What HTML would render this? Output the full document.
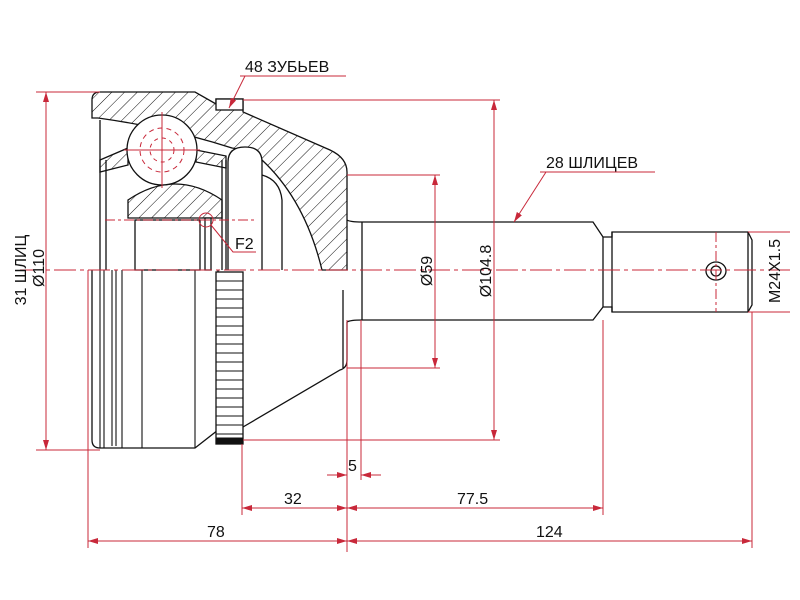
<!DOCTYPE html>
<html><head><meta charset="utf-8"><style>
html,body{margin:0;padding:0;background:#fff}
svg{display:block}
text{font-family:"Liberation Sans",sans-serif;font-size:16px;fill:#111}
</style></head><body>
<svg width="800" height="600" viewBox="0 0 800 600" xmlns="http://www.w3.org/2000/svg">
<defs>
<pattern id="h" patternUnits="userSpaceOnUse" width="9" height="9" patternTransform="rotate(45)">
<line x1="0" y1="0" x2="0" y2="9" stroke="#111" stroke-width="1"/>
</pattern>
<marker id="a" viewBox="0 0 10 6" refX="10" refY="3" markerWidth="10" markerHeight="6" orient="auto-start-reverse" markerUnits="userSpaceOnUse">
<path d="M0,0 L10,3 L0,6 Z" fill="#c8283a"/>
</marker>
</defs>

<g stroke="#111" stroke-width="1.3" fill="none">
<path d="M92,118 L92,100 Q92,92 100,92 L195,92 L216,104 L216,99 L243,99 L243,112 L330,150 Q347,158 347,172 L347,270 L322,270 Q305,200 262,160 Q250,150 232,148 Q170,128 98,118 Z" fill="url(#h)"/>
<rect x="216" y="99" width="27" height="11" fill="#fff"/>
<!-- inner race -->
<path d="M128,200 Q175,168 222,200 L222,218 L128,218 Z" fill="url(#h)"/>
<!-- cage bits -->
<path d="M100,160 L128,148 L128,165 L100,172 Z" fill="url(#h)"/>
<path d="M196,150 L226,156 L226,168 L196,162 Z" fill="url(#h)"/>
<!-- ball -->
<circle cx="162" cy="150" r="35" fill="#fff"/>
<rect x="135" y="220" width="65" height="50" fill="#fff"/>
<rect x="205" y="218" width="6" height="52" fill="#fff"/>
<path d="M100,120 L100,270 M106,160 L106,270 M222,160 L222,270 M226,160 L226,270"/>
<path d="M228,270 L228,162 Q228,147 245,147 Q262,147 262,162 L262,270" fill="#fff"/>
<path d="M262,175 Q280,180 282,200 L282,270"/>
<!-- shaft -->
<path d="M347,220 Q350,222 362,222 L593,222 L603,237 L612,237 L612,232 L748,232 L752,240 L752,305 L748,312 L612,312 L612,307 L603,307 L593,320 L362,320 Q350,320 347,322"/>
<path d="M362,222 L362,320 M603,237 L603,307 M612,232 L612,312 M748,232 L748,312"/>
<ellipse cx="716" cy="271" rx="10" ry="9"/>
<circle cx="716" cy="271" r="5"/>
<!-- lower half -->
<path d="M92,270 L92,440 Q92,448 100,448 L195,448 L218,430 L218,270"/>
<path d="M100,270 L100,448 M104,270 L104,448 M112,270 L112,446 M116,270 L116,446 M122,270 L122,448 M142,270 L142,448 M195,270 L195,448" stroke-width="1.1"/>
<rect x="216" y="272" width="27" height="172" fill="#fff"/>
<path d="M243,427 L340,370 Q347,368 347,360 L347,322 M343,290 L343,368"/>
</g>
<g stroke="#111" stroke-width="1">
<path d="M216,281H243M216,290H243M216,299H243M216,308H243M216,317H243M216,326H243M216,335H243M216,344H243M216,353H243M216,362H243M216,371H243M216,380H243M216,389H243M216,398H243M216,407H243M216,416H243M216,425H243M216,434H243"/>
<rect x="216" y="438" width="27" height="6" fill="#111"/>
</g>

<g stroke="#c8283a" stroke-width="1" fill="none">
<path d="M20,270 H790" stroke-dasharray="22,4,4,4"/>
<path d="M716,232 V312 M105,220 H255" stroke-dasharray="10,3,3,3"/>
<path d="M162,112 V188 M124,150 H200"/>
<circle cx="162" cy="150" r="22" stroke-dasharray="5,4"/>
<circle cx="162" cy="150" r="12" stroke-dasharray="4,4"/>
<path d="M36,92 H100 M36,450 H100"/>
<path d="M46,92 V450" marker-start="url(#a)" marker-end="url(#a)"/>
<path d="M347,175 H440 M347,368 H440"/>
<path d="M435,175 V368" marker-start="url(#a)" marker-end="url(#a)"/>
<path d="M243,100 H500 M243,440 H500"/>
<path d="M494,100 V440" marker-start="url(#a)" marker-end="url(#a)"/>
<path d="M748,232 H790 M748,312 H790"/>
<path d="M88,270 V548 M242,444 V515 M347,320 V552 M361,320 V480 M603,320 V515 M752,312 V548"/>
<path d="M88,541 H347" marker-start="url(#a)" marker-end="url(#a)"/>
<path d="M347,541 H752" marker-start="url(#a)" marker-end="url(#a)"/>
<path d="M242,508 H347" marker-start="url(#a)" marker-end="url(#a)"/>
<path d="M347,508 H603" marker-start="url(#a)" marker-end="url(#a)"/>
<path d="M327,475 H347" marker-end="url(#a)"/>
<path d="M381,475 H361" marker-end="url(#a)"/>
<path d="M240,76 H346"/><path d="M245,76 L229,108" marker-end="url(#a)"/>
<path d="M540,172 H655"/><path d="M546,172 L514,222" marker-end="url(#a)"/>
<circle cx="206" cy="220" r="7"/>
<path d="M211,225 L233,252 H256"/>
</g>

<text x="245" y="72">48 ЗУБЬЕВ</text>
<text x="546" y="168">28 ШЛИЦЕВ</text>
<text x="235" y="249">F2</text>
<text x="348" y="471">5</text>
<text x="284" y="504">32</text>
<text x="457" y="504">77.5</text>
<text x="207" y="537">78</text>
<text x="536" y="537">124</text>
<text transform="translate(26,270) rotate(-90)" text-anchor="middle">31 ШЛИЦ</text>
<text transform="translate(44,268) rotate(-90)" text-anchor="middle">Ø110</text>
<text transform="translate(432,271) rotate(-90)" text-anchor="middle">Ø59</text>
<text transform="translate(491,271) rotate(-90)" text-anchor="middle">Ø104.8</text>
<text transform="translate(780,271) rotate(-90)" text-anchor="middle">M24X1.5</text>
</svg>
</body></html>
